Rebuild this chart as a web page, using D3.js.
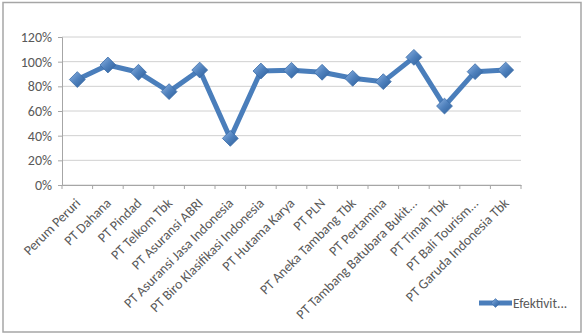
<!DOCTYPE html>
<html><head><meta charset="utf-8">
<script src="https://cdn.jsdelivr.net/npm/d3@7"></script>
<style>body{margin:0;background:#fff}svg{display:block}</style>
</head><body>
<script>
const categories = ["Perum Peruri","PT Dahana","PT Pindad","PT Telkom Tbk","PT Asuransi ABRI","PT Asuransi Jasa Indonesia","PT Biro Klasifikasi Indonesia","PT Hutama Karya","PT PLN","PT Aneka Tambang Tbk","PT Pertamina","PT Tambang Batubara Bukit...","PT Timah Tbk","PT Bali Tourism...","PT Garuda Indonesia Tbk"];
const values = [0.855, 0.973, 0.914, 0.757, 0.932, 0.378, 0.924, 0.93, 0.914, 0.865, 0.838, 1.035, 0.64, 0.919, 0.932];
const yTicks = [0, 0.2, 0.4, 0.6, 0.8, 1.0, 1.2];
const seriesName = "Efektivit...";

(function(){
const W = 586, H = 335;
const svg = d3.select("body").append("svg").attr("width", W).attr("height", H);
const font = "Calibri, Carlito, 'Liberation Sans', Arial, sans-serif";

const defs = svg.append("defs");
const g1 = defs.append("linearGradient").attr("id","dg").attr("x1","0").attr("y1","0").attr("x2","1").attr("y2","1");
g1.append("stop").attr("offset","0").attr("stop-color","#8fb4e3");
g1.append("stop").attr("offset","0.5").attr("stop-color","#4f81bd");
g1.append("stop").attr("offset","1").attr("stop-color","#2c5d98");

svg.append("rect").attr("x",3).attr("y",2.5).attr("width",578).attr("height",329.5)
  .attr("fill","#fff").attr("stroke","#a6a6a6").attr("stroke-width",1.5);

const pl = 62, pr = 521, pt = 37, pb = 185;
const x = d3.scaleBand().domain(categories).range([pl, pr]);
const y = d3.scaleLinear().domain([0, 1.2]).range([pb, pt]);

svg.append("g").selectAll("line").data(yTicks).join("line")
  .attr("x1", pl).attr("x2", pr)
  .attr("y1", d => y(d)).attr("y2", d => y(d))
  .attr("stroke", "#d0d0d0").attr("stroke-width", 1);

const yAxis = svg.append("g").attr("transform", `translate(${pl},0)`)
  .call(d3.axisLeft(y).tickValues(yTicks).tickFormat(d3.format(".0%")).tickSize(4).tickPadding(6));
yAxis.select(".domain").attr("stroke", "#a6a6a6");
yAxis.selectAll(".tick line").attr("stroke", "#a6a6a6");
yAxis.selectAll("text").attr("font-family", font).attr("font-size", 14).attr("fill", "#595959");

const xAxis = svg.append("g").attr("transform", `translate(0,${pb})`)
  .call(d3.axisBottom(x).tickSize(0).tickFormat(""));
xAxis.select(".domain").attr("stroke", "#a6a6a6");
xAxis.selectAll(".tick").remove();
const bounds = categories.map(c => x(c)).concat([pr]);
svg.append("g").selectAll("line").data(bounds).join("line")
  .attr("x1", d => d).attr("x2", d => d).attr("y1", pb).attr("y2", pb + 4)
  .attr("stroke", "#a6a6a6");

svg.append("g").selectAll("text").data(categories).join("text")
  .attr("transform", d => `translate(${x(d) + x.bandwidth()/2 + 4},${pb + 19}) rotate(-45)`)
  .attr("text-anchor", "end").attr("font-family", font).attr("font-size", 13.8)
  .attr("fill", "#595959").text(d => d);

const line = d3.line().x((d, i) => x(categories[i]) + x.bandwidth()/2).y(d => y(d));
svg.append("path").datum(values).attr("d", line).attr("fill", "none")
  .attr("stroke", "#4a7ebb").attr("stroke-width", 5).attr("stroke-linejoin", "round");

const diamond = d3.symbol().type(d3.symbolDiamond2).size(160);
svg.append("g").selectAll("path").data(values).join("path")
  .attr("transform", (d, i) => `translate(${x(categories[i]) + x.bandwidth()/2},${y(d)})`)
  .attr("d", diamond).attr("fill", "url(#dg)").attr("stroke", "#3a6ca8").attr("stroke-width", 0.8);

const lg = svg.append("g").attr("transform", "translate(479,303)");
lg.append("line").attr("x1", 0).attr("x2", 33).attr("y1", 0).attr("y2", 0)
  .attr("stroke", "#4a7ebb").attr("stroke-width", 5);
lg.append("path").attr("transform", "translate(16.5,0)")
  .attr("d", d3.symbol().type(d3.symbolDiamond2).size(50)).attr("fill", "url(#dg)").attr("stroke", "#3a6ca8").attr("stroke-width", 0.6);
lg.append("text").attr("x", 34).attr("y", 4.5).attr("font-family", font).attr("font-size", 13.5)
  .attr("fill", "#595959").text(seriesName);
})();
</script>
</body></html>
